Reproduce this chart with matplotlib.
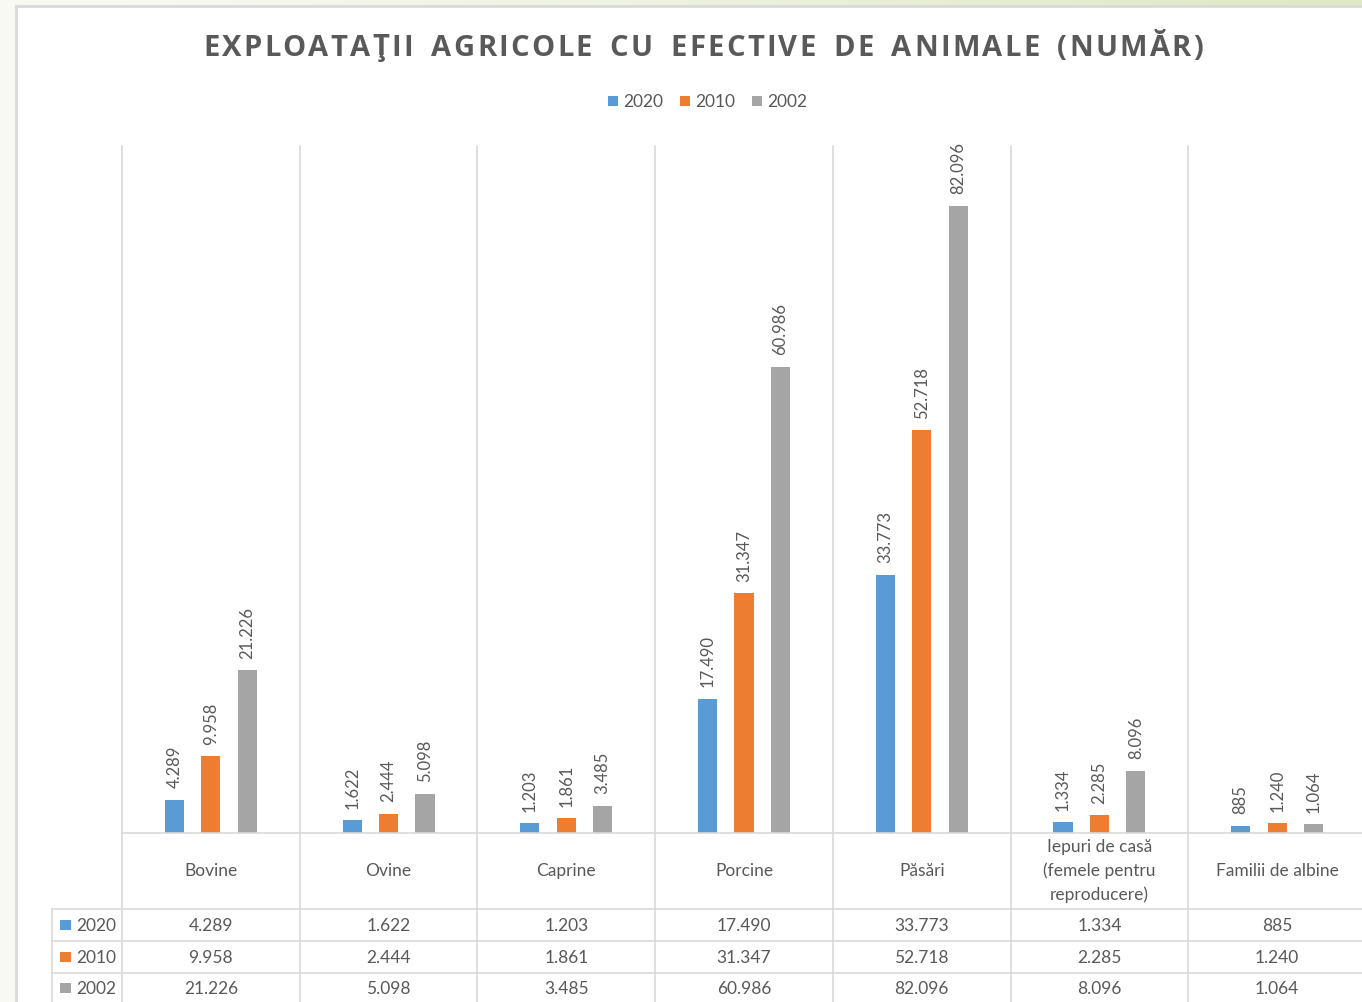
import numpy as np
import matplotlib.pyplot as plt
import matplotlib.transforms as mtransforms
from matplotlib.patches import Rectangle

plt.rcParams["font.family"] = ["Lato", "DejaVu Sans"]

categories = ["Bovine", "Ovine", "Caprine", "Porcine", "Păsări",
              "Iepuri de casă\n(femele pentru\nreproducere)", "Familii de albine"]
years = ["2020", "2010", "2002"]
v2020 = [4289, 1622, 1203, 17490, 33773, 1334, 885]
v2010 = [9958, 2444, 1861, 31347, 52718, 2285, 1240]
v2002 = [21226, 5098, 3485, 60986, 82096, 8096, 1064]
series = [v2020, v2010, v2002]
colors = ["#5B9BD5", "#ED7D31", "#A5A5A5"]
title = "EXPLOATAŢII AGRICOLE CU EFECTIVE DE ANIMALE (NUMĂR)"

TXT = "#595959"
GRID = "#D9D9D9"
W, H = 1362, 1003


def fmt(v):
    return f"{v:,}".replace(",", ".")


fig = plt.figure(figsize=(W / 100, H / 100), dpi=100)

# background: cream with greenish tint at top right
bg = fig.add_axes([0, 0, 1, 1], zorder=-10)
xx = np.linspace(0, 1, 300)
yy = np.linspace(0, 1, 100)
X, Y = np.meshgrid(xx, yy)
t = np.clip(X * 1.1 - 0.1, 0, 1) * np.clip(1 - Y * 8, 0, 1)
c0 = np.array([248, 249, 243]) / 255
c1 = np.array([224, 232, 196]) / 255
img = c0[None, None, :] * (1 - t[..., None]) + c1[None, None, :] * t[..., None]
bg.imshow(img, extent=[0, 1, 0, 1], aspect="auto", origin="upper")
bg.set_axis_off()

# white chart area
fig.patches.append(Rectangle((16 / W, -0.05), 1.1, (H - 7) / H + 0.05,
                             transform=fig.transFigure, facecolor="white",
                             edgecolor=GRID, linewidth=2, zorder=-5))

# plot area in pixels: x 122..1366, y 145..832
px_left, px_right, px_top, px_base = 122, 1366, 146.5, 833.5
ax = fig.add_axes([px_left / W, (H - px_base) / H,
                   (px_right - px_left) / W, (px_base - px_top) / H])
ax.set_xlim(0, 7)
ax.set_ylim(0, 90000)
ax.set_axis_off()

cat_w = (px_right - px_left) / 7.0
hpx = px_base - px_top


def ay(pix):
    return (px_base - pix) / hpx


def dx(pix):
    return (pix - px_left) / cat_w


x = np.arange(len(categories)) + 0.5
offs = [-0.205, 0.0, 0.205]
bw = 0.108
for i, vals in enumerate(series):
    bars = ax.bar(x + offs[i], vals, width=bw, color=colors[i], zorder=3)
    for b, v in zip(bars, vals):
        ax.annotate(fmt(v), (b.get_x() + b.get_width() / 2, v),
                    xytext=(0, 9), textcoords="offset points",
                    rotation=90, ha="center", va="bottom",
                    fontsize=12, color=TXT)

# table lines
trans = mtransforms.blended_transform_factory(ax.transData, ax.transAxes)
lw = 1.2
for k in range(8):
    ax.plot([k, k], [1, ay(H + 5)], color=GRID, lw=lw, transform=trans,
            clip_on=False, zorder=1)
ax.plot([dx(52), dx(52)], [ay(910), ay(H + 5)], color=GRID, lw=lw,
        transform=trans, clip_on=False)
ax.plot([0, 7.2], [0, 0], color=GRID, lw=lw, transform=trans, clip_on=False,
        zorder=4)
for yp in [910, 942, 974]:
    ax.plot([dx(52), 7.2], [ay(yp), ay(yp)], color=GRID, lw=lw,
            transform=trans, clip_on=False)

# category labels
for xi, c in zip(x, categories):
    ax.text(xi, ay(871), c, ha="center", va="center", fontsize=12.5,
            color=TXT, transform=trans, linespacing=1.55)

# table rows
row_y = [926, 958, 989]
for r, (yr, vals, col) in enumerate(zip(years, series, colors)):
    yc = ay(row_y[r])
    ax.add_patch(Rectangle((dx(60), yc - 5 / hpx), 11 / cat_w, 10 / hpx,
                           transform=trans, facecolor=col, clip_on=False))
    ax.text(dx(76), yc, yr, ha="left", va="center", fontsize=12.5,
            color=TXT, transform=trans)
    for xi, v in zip(x, vals):
        ax.text(xi, yc, fmt(v), ha="center", va="center", fontsize=12.5,
                color=TXT, transform=trans)

# legend
leg_y = 1 - 102 / H
ax_leg_x = [608, 680, 752]
for lx, yr, col in zip(ax_leg_x, years, colors):
    fig.patches.append(Rectangle((lx / W, leg_y - 5 / H), 10 / W, 10 / H,
                                 transform=fig.transFigure, facecolor=col))
    fig.text((lx + 15) / W, leg_y, yr, ha="left", va="center",
             fontsize=12.5, color=TXT)

# title with letter spacing
renderer = fig.canvas.get_renderer()
tkw = dict(fontsize=21, fontweight="bold", color=TXT,
           family=["Open Sans", "DejaVu Sans"])
widths = []
for ch in title:
    if ch == " ":
        widths.append(None)
        continue
    tt = fig.text(0, 0, ch, **tkw)
    widths.append(tt.get_window_extent(renderer).width)
    tt.remove()
space_w = 13
n_gaps = len(title) - 1
total_chars = sum(w if w is not None else space_w for w in widths)
track = (1000 - total_chars) / n_gaps
xp = 203
ty = 1 - 48 / H
for ch, w in zip(title, widths):
    if w is None:
        xp += space_w + track
        continue
    fig.text(xp / W, ty, ch, ha="left", va="center", **tkw)
    xp += w + track

fig.savefig("out.png", dpi=100)
